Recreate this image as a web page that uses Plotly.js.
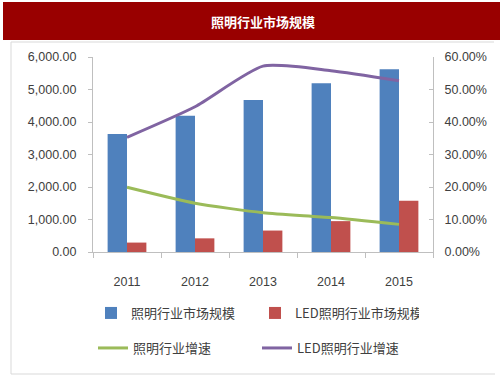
<!DOCTYPE html>
<html>
<head>
<meta charset="utf-8">
<script src="https://cdn.plot.ly/plotly-3.0.1.min.js"></script>
<style>html,body{margin:0;padding:0;background:#fff;}#chart{width:503px;height:378px;}</style>
</head>
<body>
<div id="chart"></div>
<script>
const years = ['2011', '2012', '2013', '2014', '2015'];
const lightingMarket = [3630, 4190, 4680, 5190, 5620];
const ledMarket = [290, 420, 660, 950, 1580];
const lightingGrowth = [19.9, 15.0, 12.1, 10.6, 8.5];
const ledGrowth = [35.3, 44.7, 57.2, 55.8, 52.7];
const seriesNames = ['照明行业市场规模', 'LED照明行业市场规模', '照明行业增速', 'LED照明行业增速'];
const chartTitle = '照明行业市场规模';

const font = 'Liberation Sans, Noto Sans CJK SC, sans-serif';
const cjk = 'Noto Sans CJK SC, sans-serif';
const txt = '#404040';
const axisCol = '#bfbfbf';

const L = 93, R = 433, T = 57, B = 252;
const W = R - L, H = B - T;
const px = v => (v - L) / W;
const py = v => (B - v) / H;

const traces = [
  {type: 'bar', x: years, y: lightingMarket, name: seriesNames[0], marker: {color: '#4F81BD'}, legend: 'legend'},
  {type: 'bar', x: years, y: ledMarket, name: seriesNames[1], marker: {color: '#C0504D'}, legend: 'legend'},
  {type: 'scatter', mode: 'lines', x: years, y: lightingGrowth, name: seriesNames[2], yaxis: 'y2', line: {color: '#9BBB59', width: 3, shape: 'spline', smoothing: 0.6}, legend: 'legend2'},
  {type: 'scatter', mode: 'lines', x: years, y: ledGrowth, name: seriesNames[3], yaxis: 'y2', line: {color: '#8064A2', width: 3, shape: 'spline', smoothing: 0.6}, legend: 'legend2'}
];

const legendBase = {
  orientation: 'h', xanchor: 'left', yanchor: 'middle',
  font: {family: cjk, size: 13, color: txt},
  entrywidth: 119, entrywidthmode: 'pixels', itemwidth: 30,
  bgcolor: 'rgba(0,0,0,0)', traceorder: 'normal'
};

const layout = {
  width: 503, height: 378,
  margin: {l: L, r: 503 - R, t: T, b: 378 - B, pad: 0},
  paper_bgcolor: '#fff', plot_bgcolor: '#fff',
  title: {text: '<b>' + chartTitle + '</b>', x: 0.5, xanchor: 'center', xref: 'paper',
          y: 1 - 22 / 378, yanchor: 'middle', font: {family: cjk, size: 13, color: '#fff'}},
  barmode: 'group', bargap: 0.43, bargroupgap: 0,
  showlegend: true,
  xaxis: {
    type: 'category', showgrid: false, showline: true, linecolor: axisCol, linewidth: 1,
    ticks: 'outside', tickson: 'boundaries', ticklen: 5, tickcolor: axisCol,
    tickfont: {family: font, size: 12.5, color: txt}, ticklabelstandoff: 18
  },
  yaxis: {
    range: [0, 6000], dtick: 1000, tickformat: ',.2f', showgrid: false, zeroline: false,
    showline: true, linecolor: axisCol, ticks: 'outside', ticklen: 4, tickcolor: axisCol,
    tickfont: {family: font, size: 12.5, color: txt}, ticklabelstandoff: 9
  },
  yaxis2: {
    overlaying: 'y', side: 'right', range: [0, 60], dtick: 10, tickformat: '.2f', ticksuffix: '%',
    showgrid: false, zeroline: false, showline: true, linecolor: axisCol,
    ticks: 'inside', ticklen: 4, tickcolor: axisCol,
    tickfont: {family: font, size: 12.5, color: txt}, ticklabelstandoff: 8
  },
  legend: Object.assign({}, legendBase, {x: px(91), y: py(313)}),
  legend2: Object.assign({}, legendBase, {x: px(93), y: py(348)}),
  shapes: [
    {type: 'rect', xref: 'paper', yref: 'paper', x0: px(3), x1: px(500), y0: py(40), y1: py(2),
     line: {width: 0}, fillcolor: '#990000', layer: 'below'},
    {type: 'line', xref: 'paper', yref: 'paper', x0: px(11), x1: px(494), y0: py(42), y1: py(42),
     line: {color: '#d9d9d9', width: 1}, layer: 'below'},
    {type: 'line', xref: 'paper', yref: 'paper', x0: px(11), x1: px(11), y0: py(42), y1: py(374),
     line: {color: '#d9d9d9', width: 1}, layer: 'below'},
    {type: 'line', xref: 'paper', yref: 'paper', x0: px(11), x1: px(495), y0: py(374), y1: py(374),
     line: {color: '#d9d9d9', width: 1}, layer: 'below'}
  ]
};

Plotly.newPlot('chart', traces, layout, {displayModeBar: false, staticPlot: true});
</script>
</body>
</html>
